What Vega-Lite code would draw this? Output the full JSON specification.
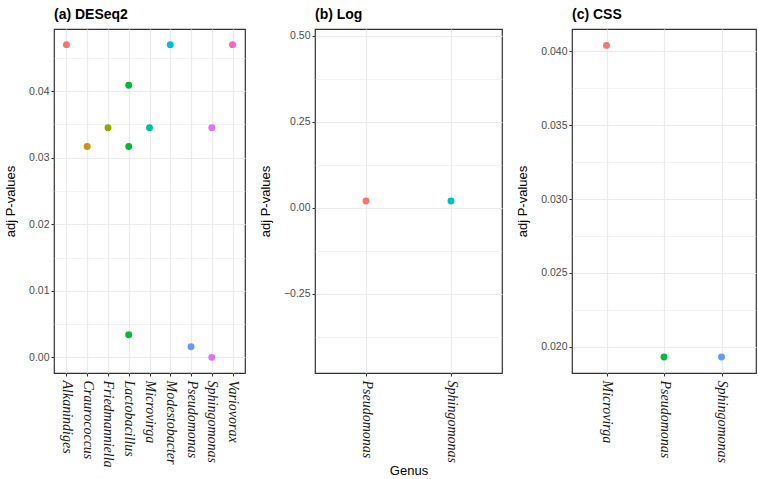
{
  "$schema": "https://vega.github.io/schema/vega-lite/v6.json",
  "padding": {"left": 3, "top": 7, "right": 0, "bottom": 0},
  "background": "white",
  "datasets": {
    "deseq2": [
      {"genus": "Alkanindiges", "padj": 0.0470},
      {"genus": "Craurococcus", "padj": 0.0317},
      {"genus": "Friedmanniella", "padj": 0.0345},
      {"genus": "Lactobacillus", "padj": 0.0409},
      {"genus": "Lactobacillus", "padj": 0.0317},
      {"genus": "Lactobacillus", "padj": 0.0034},
      {"genus": "Microvirga", "padj": 0.0345},
      {"genus": "Modestobacter", "padj": 0.0470},
      {"genus": "Pseudomonas", "padj": 0.0016},
      {"genus": "Sphingomonas", "padj": 0.0345},
      {"genus": "Sphingomonas", "padj": 0.0000},
      {"genus": "Variovorax", "padj": 0.0470}
    ],
    "log": [
      {"genus": "Pseudomonas", "padj": 0.0193},
      {"genus": "Sphingomonas", "padj": 0.0193}
    ],
    "css": [
      {"genus": "Microvirga", "padj": 0.0404},
      {"genus": "Pseudomonas", "padj": 0.0193},
      {"genus": "Sphingomonas", "padj": 0.0193}
    ]
  },
  "spacing": 70,
  "bounds": "flush",
  "resolve": {"scale": {"color": "independent", "x": "independent", "y": "independent"}},
  "config": {
    "font": "Liberation Sans",
    "view": {"stroke": "#333333", "strokeWidth": 1.2},
    "axis": {
      "gridColor": "#EBEBEB",
      "domain": false,
      "tickColor": "#333333",
      "tickSize": 3,
      "labelColor": "#4D4D4D",
      "labelFontSize": 10.5,
      "labelFont": "Liberation Sans",
      "titleFont": "Liberation Sans",
      "titleFontSize": 13,
      "titleFontWeight": "normal",
      "titleColor": "#000000",
      "labelOverlap": false
    },
    "axisX": {
      "grid": true,
      "gridWidth": 1.2,
      "labelFont": "Liberation Serif",
      "labelFontStyle": "italic",
      "labelFontSize": 14,
      "labelAngle": 90,
      "labelColor": "#1a1a1a",
      "labelPadding": 4,
      "titlePadding": 2
    },
    "axisY": {"titlePadding": 11, "labelPadding": 2},
    "title": {"anchor": "start", "frame": "group", "fontSize": 14, "fontWeight": "bold", "offset": 7, "color": "#000000", "font": "Liberation Sans"}
  },
  "hconcat": [
    {
      "title": "(a) DESeq2",
      "width": 191,
      "height": 344,
      "data": {"name": "deseq2"},
      "mark": {"type": "circle", "size": 48, "opacity": 1},
      "encoding": {
        "x": {
          "field": "genus", "type": "nominal",
          "scale": {"type": "point", "padding": 0.6},
          "axis": {"title": null}
        },
        "y": {
          "field": "padj", "type": "quantitative",
          "scale": {"domain": [-0.00235, 0.04935], "nice": false, "zero": false},
          "axis": {
            "title": "adj P-values",
            "values": [0, 0.005, 0.01, 0.015, 0.02, 0.025, 0.03, 0.035, 0.04, 0.045],
            "format": ".2f",
            "labelExpr": "round(datum.value*200) % 2 == 1 ? '' : datum.label",
            "gridWidth": {"condition": {"test": "round(datum.value*200) % 2 == 1", "value": 0.6}, "value": 1.2},
            "tickOpacity": {"condition": {"test": "round(datum.value*200) % 2 == 1", "value": 0}, "value": 1}
          }
        },
        "color": {
          "field": "genus", "type": "nominal", "legend": null,
          "scale": {
            "domain": ["Alkanindiges", "Craurococcus", "Friedmanniella", "Lactobacillus", "Microvirga", "Modestobacter", "Pseudomonas", "Sphingomonas", "Variovorax"],
            "range": ["#F8766D", "#D39200", "#93AA00", "#00BA38", "#00C19F", "#00B9E3", "#619CFF", "#DB72FB", "#FF61C3"]
          }
        }
      }
    },
    {
      "title": "(b) Log",
      "width": 187,
      "height": 344,
      "data": {"name": "log"},
      "mark": {"type": "circle", "size": 48, "opacity": 1},
      "encoding": {
        "x": {
          "field": "genus", "type": "nominal",
          "scale": {"type": "point", "padding": 0.6},
          "axis": {"title": "Genus"}
        },
        "y": {
          "field": "padj", "type": "quantitative",
          "scale": {"domain": [-0.4807, 0.5193], "nice": false, "zero": false},
          "axis": {
            "title": "adj P-values",
            "values": [-0.375, -0.25, -0.125, 0, 0.125, 0.25, 0.375, 0.5],
            "format": ".2f",
            "labelExpr": "abs(round(datum.value*8)) % 2 == 1 ? '' : datum.label",
            "gridWidth": {"condition": {"test": "abs(round(datum.value*8)) % 2 == 1", "value": 0.6}, "value": 1.2},
            "tickOpacity": {"condition": {"test": "abs(round(datum.value*8)) % 2 == 1", "value": 0}, "value": 1}
          }
        },
        "color": {
          "field": "genus", "type": "nominal", "legend": null,
          "scale": {"domain": ["Pseudomonas", "Sphingomonas"], "range": ["#F8766D", "#00BFC4"]}
        }
      }
    },
    {
      "title": "(c) CSS",
      "width": 184,
      "height": 344,
      "data": {"name": "css"},
      "mark": {"type": "circle", "size": 48, "opacity": 1},
      "encoding": {
        "x": {
          "field": "genus", "type": "nominal",
          "scale": {"type": "point", "padding": 0.6},
          "axis": {"title": null}
        },
        "y": {
          "field": "padj", "type": "quantitative",
          "scale": {"domain": [0.01822, 0.04151], "nice": false, "zero": false},
          "axis": {
            "title": "adj P-values",
            "values": [0.02, 0.0225, 0.025, 0.0275, 0.03, 0.0325, 0.035, 0.0375, 0.04],
            "format": ".3f",
            "labelExpr": "round(datum.value*400) % 2 == 1 ? '' : datum.label",
            "gridWidth": {"condition": {"test": "round(datum.value*400) % 2 == 1", "value": 0.6}, "value": 1.2},
            "tickOpacity": {"condition": {"test": "round(datum.value*400) % 2 == 1", "value": 0}, "value": 1}
          }
        },
        "color": {
          "field": "genus", "type": "nominal", "legend": null,
          "scale": {"domain": ["Microvirga", "Pseudomonas", "Sphingomonas"], "range": ["#F8766D", "#00BA38", "#619CFF"]}
        }
      }
    }
  ]
}
